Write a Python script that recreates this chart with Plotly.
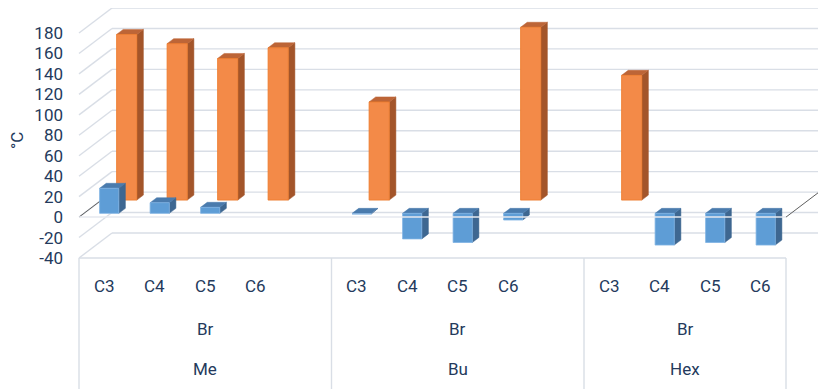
import plotly.graph_objects as go

# ---------------- data ----------------
GROUPS = ["Me", "Bu", "Hex"]
SUBCATS = ["C3", "C4", "C5", "C6"]
MID_LABEL = "Br"
SLOTS_PER_GROUP = [5, 5, 4]          # Me and Bu carry one blank category slot

BLUE_ME = [24.5, 10.4, 5.9, None]
BLUE_BU = [-0.6, -25.0, -28.5, -6.5]
BLUE_HEX = [None, -31.0, -28.5, -31.0]

ORANGE_ME = [162.0, 153.0, 138.5, 149.0]
ORANGE_BU = [96.0, None, None, 169.0]
ORANGE_HEX = [122.0, None, None, None]

Y_TICKS = [-40, -20, 0, 20, 40, 60, 80, 100, 120, 140, 160, 180]
Y_TITLE = "°C"

# ---------------- geometry / style ----------------
PAGE_OFF = 8                      # default body margin of the html page
W, H = 826 - PAGE_OFF, 389 - PAGE_OFF
ML = 66 - PAGE_OFF
FRONT_LEFT_PX = 79.0 - PAGE_OFF
SLOT_PX = 50.5
ZERO_PX = 217.1 - PAGE_OFF
UNIT_PX = 1.0227
DEPTH_DX_PX = 33.0
DEPTH_DY_PX = 25.0

DX = DEPTH_DX_PX / SLOT_PX
DY = DEPTH_DY_PX / UNIT_PX
N_SLOTS = sum(SLOTS_PER_GROUP)
X_RANGE = [(ML - FRONT_LEFT_PX) / SLOT_PX, (W - FRONT_LEFT_PX) / SLOT_PX]
Y_RANGE = [-(H - ZERO_PX) / UNIT_PX, ZERO_PX / UNIT_PX]
Y_MIN, Y_MAX = Y_TICKS[0], Y_TICKS[-1]

GRID = "#d9dee6"
TEXT = "#243a5c"
FONT = "Roboto"
FS = 17


def px_to_paper_x(px):
    return (px - PAGE_OFF - ML) / (W - ML)


def px_to_paper_y(py):
    return 1 - (py - PAGE_OFF) / H


def proj(x, v, d):
    return x + d * DX, v + d * DY


def seg_trace(segs, color, width):
    xs, ys = [], []
    for (a, b) in segs:
        xs += [a[0], b[0], None]
        ys += [a[1], b[1], None]
    return go.Scatter(x=xs, y=ys, mode="lines", line=dict(color=color, width=width),
                      hoverinfo="skip", showlegend=False)


def poly_trace(polys, fill, line, lw):
    xs, ys = [], []
    for p in polys:
        for (x, y) in p + [p[0]]:
            xs.append(x)
            ys.append(y)
        xs.append(None)
        ys.append(None)
    return go.Scatter(x=xs, y=ys, mode="lines", fill="toself", fillcolor=fill,
                      line=dict(color=line, width=lw), hoverinfo="skip", showlegend=False)


# slot centres
centers = []
group_bounds = []
start = 0
for n in SLOTS_PER_GROUP:
    group_bounds.append((start, start + n))
    for k in range(len(SUBCATS)):
        centers.append(start + k + 0.5)
    start += n

fig = go.Figure()

# walls: back-wall horizontal gridlines + side-wall diagonals
grid = []
for v in Y_TICKS:
    grid.append((proj(0, v, 1), proj(N_SLOTS, v, 1)))
    grid.append((proj(0, v, 0), proj(0, v, 1)))
grid.append((proj(0, Y_MIN, 0), proj(N_SLOTS, Y_MIN, 0)))
fig.add_trace(seg_trace(grid, GRID, 1.4))

# dark depth lines at zero
fig.add_trace(seg_trace([(proj(0, 0, 0), proj(0, 0, 1)),
                         (proj(N_SLOTS, 0, 0), proj(N_SLOTS, 0, 1))], "#5f5f5f", 1))


def add_row(values, d0, d1, width, c_front, c_top, c_side, c_edge):
    fronts, tops, sides = [], [], []
    for c, v in zip(centers, values):
        if v is None:
            continue
        lo, hi = min(0, v), max(0, v)
        xl, xr = c - width / 2, c + width / 2
        fronts.append([proj(xl, lo, d0), proj(xr, lo, d0), proj(xr, hi, d0), proj(xl, hi, d0)])
        tops.append([proj(xl, hi, d0), proj(xr, hi, d0), proj(xr, hi, d1), proj(xl, hi, d1)])
        sides.append([proj(xr, lo, d0), proj(xr, lo, d1), proj(xr, hi, d1), proj(xr, hi, d0)])
    fig.add_trace(poly_trace(sides, c_side, c_side, 0.5))
    fig.add_trace(poly_trace(tops, c_top, c_top, 0.5))
    fig.add_trace(poly_trace(fronts, c_front, c_edge, 0.8))


orange = ORANGE_ME + ORANGE_BU + ORANGE_HEX
blue = BLUE_ME + BLUE_BU + BLUE_HEX
add_row(orange, 0.68, 0.88, 0.40, "#f38a48", "#bd6537", "#a3552a", "#ee7a28")
add_row(blue, 0.15, 0.35, 0.38, "#5e9dd6", "#4a7bad", "#3e6791", "#7fb3e3")

# front zero line (drawn over the front row)
fig.add_trace(seg_trace([(proj(0, 0, 0), proj(N_SLOTS, 0, 0))], "#e6e9ef", 1.5))

# category table lines
shapes = []
for xb in [0] + [b for (_, b) in group_bounds]:
    shapes.append(dict(type="line", xref="x", yref="y", x0=xb, x1=xb, y0=Y_MIN, y1=Y_RANGE[0],
                       line=dict(color=GRID, width=1.4)))

font = dict(family=FONT, size=FS, color=TEXT)
annotations = []
for c, lab in zip(centers, SUBCATS * len(GROUPS)):
    annotations.append(dict(x=c, y=px_to_paper_y(286), xref="x", yref="paper", text=lab,
                            xanchor="center", yanchor="middle", showarrow=False, font=font))
for (a, b), g in zip(group_bounds, GROUPS):
    annotations.append(dict(x=(a + b) / 2, y=px_to_paper_y(329), xref="x", yref="paper",
                            text=MID_LABEL, xanchor="center", yanchor="middle",
                            showarrow=False, font=font))
    annotations.append(dict(x=(a + b) / 2, y=px_to_paper_y(369), xref="x", yref="paper",
                            text=g, xanchor="center", yanchor="middle",
                            showarrow=False, font=font))
annotations.append(dict(x=px_to_paper_x(17), y=px_to_paper_y(140), xref="paper", yref="paper",
                        text=Y_TITLE, textangle=-90, xanchor="center", yanchor="middle",
                        showarrow=False, font=font))

fig.update_layout(
    width=W, height=H,
    margin=dict(l=ML, r=0, t=0, b=0),
    paper_bgcolor="white", plot_bgcolor="white",
    showlegend=False,
    shapes=shapes, annotations=annotations,
    xaxis=dict(range=X_RANGE, visible=False, fixedrange=True),
    yaxis=dict(range=Y_RANGE, tickvals=Y_TICKS, ticktext=[str(t) for t in Y_TICKS],
               showgrid=False, zeroline=False, showline=False, ticks="",
               ticklabelstandoff=2, tickfont=font, fixedrange=True),
)

fig.write_html("out.html")
